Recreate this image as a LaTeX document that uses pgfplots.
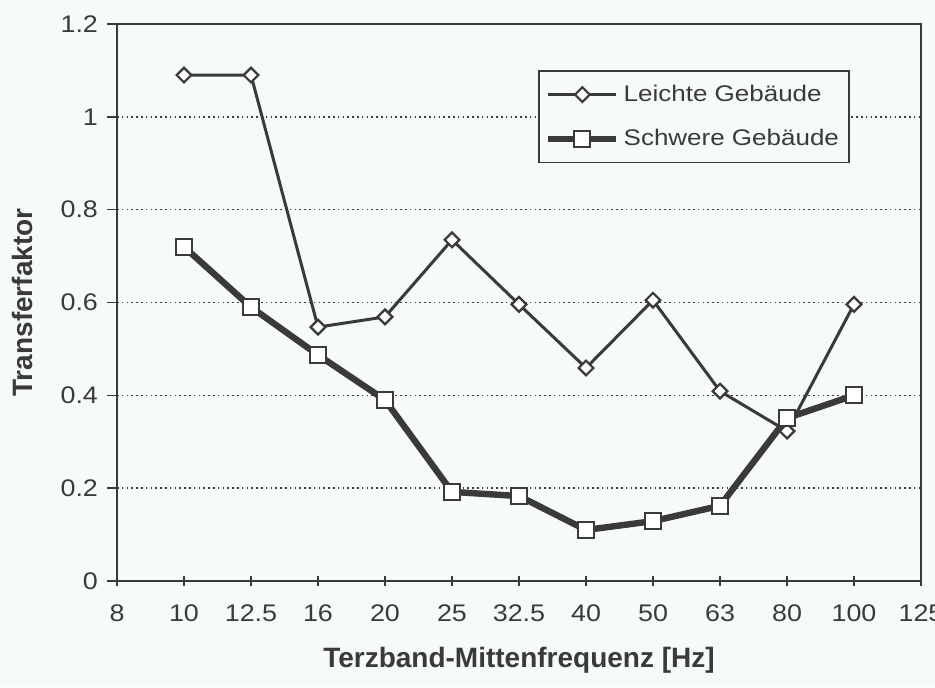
\documentclass[border=0pt]{standalone}
\usepackage{fontspec}
\setmainfont{Liberation Sans}
\newfontfamily\widefont[FakeStretch=1.12]{Liberation Sans}
\newfontfamily\legfont[FakeStretch=1.15]{Liberation Sans}
\usepackage{pgfplots}
\pgfplotsset{compat=1.18}
\definecolor{bg}{HTML}{F6FAFB}
\definecolor{ln}{HTML}{3A3A3A}
\begin{document}
\begin{tikzpicture}[x=1pt,y=1pt]
\fill[bg] (-58.5,-53) rectangle (409,290.5);
\begin{axis}[
  name=ax,
  at={(0,0)}, anchor=south west,
  scale only axis,
  width=402pt, height=278.5pt,
  xmin=0, xmax=12, ymin=0, ymax=1.2,
  xtick={0,...,12},
  xticklabels={8,10,12.5,16,20,25,32.5,40,50,63,80,100,125},
  ytick={0,0.2,0.4,0.6,0.8,1,1.2},
  yticklabels={0,0.2,0.4,0.6,0.8,1,1.2},
  tick pos=left,
  xtick align=center,
  ytick align=outside,
  major tick length=5pt,
  tick style={ln, line width=0.7pt},
  axis line style={ln, line width=0.8pt},
  ymajorgrids,
  grid style={ln, line width=0.8pt, dash pattern=on 0.8pt off 1.6pt},
  /pgf/number format/assume math mode=true,
  tick label style={font=\widefont\fontsize{12}{14}\selectfont, text=ln},
  x tick label style={yshift=-6pt},
  y tick label style={xshift=-1pt},
  xlabel={Terzband-Mittenfrequenz [Hz]},
  ylabel={Transferfaktor},
  every axis x label/.style={at={(axis description cs:0.5,-0.143)}, anchor=center, font=\fontsize{14}{16}\selectfont\bfseries, text=ln},
  every axis y label/.style={at={(axis description cs:-0.118,0.5)}, rotate=90, anchor=center, font=\fontsize{14}{16}\selectfont\bfseries, text=ln},
  legend style={at={(axis description cs:0.524,0.917)}, anchor=north west, draw=ln, line width=0.7pt, fill=bg, font=\legfont\fontsize{11.3}{13.5}\selectfont, text=ln, row sep=8.5pt, inner xsep=3pt, inner ysep=5pt},
  legend cell align=left,
  legend image code/.code={\draw[mark repeat=2,mark phase=2] plot coordinates {(0cm,0cm)(0.6cm,0cm)(1.2cm,0cm)};},
]
\addplot[ln, line width=1.5pt, mark=square*, mark size=2.6pt, mark options={fill=white, rotate=45, line width=1.1pt, solid}] coordinates {
(1,1.09) (2,1.09) (3,0.547) (4,0.569) (5,0.735) (6,0.596) (7,0.459) (8,0.605) (9,0.409) (10,0.323) (11,0.596)};
\addlegendentry{Leichte Gebäude}
\addplot[ln, line width=3.2pt, mark=square*, mark size=4pt, mark options={fill=white, line width=1.1pt, solid}] coordinates {
(1,0.72) (2,0.59) (3,0.487) (4,0.39) (5,0.192) (6,0.183) (7,0.11) (8,0.129) (9,0.162) (10,0.351) (11,0.40)};
\addlegendentry{Schwere Gebäude}
\end{axis}
\pgfresetboundingbox
\useasboundingbox (-58.5,-53) rectangle (409,290.5);
\end{tikzpicture}
\end{document}
